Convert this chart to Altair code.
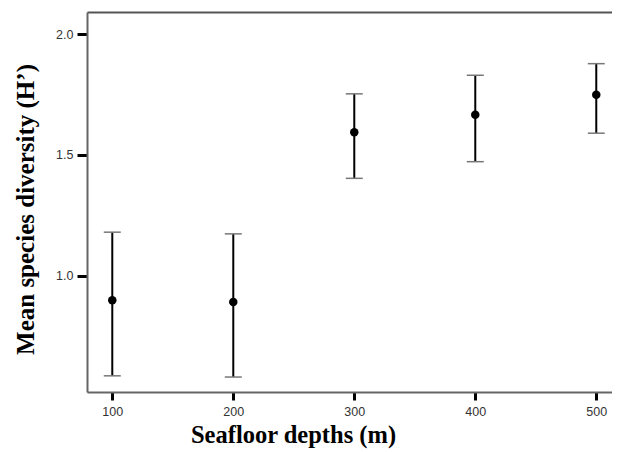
import altair as alt
import pandas as pd

depths = [100, 200, 300, 400, 500]
means = [0.898, 0.891, 1.594, 1.666, 1.749]
lower = [0.585, 0.580, 1.403, 1.472, 1.590]
upper = [1.180, 1.173, 1.753, 1.830, 1.878]
x_ticks = [100, 200, 300, 400, 500]
y_ticks = [1.0, 1.5, 2.0]

df = pd.DataFrame({"depth": depths, "mean": means, "lower": lower, "upper": upper})

xs = alt.Scale(domain=[79.1, 513], nice=False, zero=False)
ys = alt.Scale(domain=[0.518, 2.092], nice=False, zero=False)

x_axis = alt.Axis(
    values=x_ticks, title="Seafloor depths (m)", grid=False,
    tickSize=8, tickWidth=3, tickColor="black",
    domainColor="#666", domainWidth=2,
    labelFont="Liberation Sans", labelFontSize=12.5, labelColor="#333", labelPadding=5,
    titleFont="Liberation Serif", titleFontSize=24.5, titleFontWeight="bold", titleColor="black",
    titleX=206, titleY=50, titleAlign="center", titleBaseline="alphabetic",
)
y_axis = alt.Axis(
    values=y_ticks, format=".1f", title="Mean species diversity (H\u2019)", grid=False,
    tickSize=10, tickWidth=3, tickColor="black",
    domainColor="#666", domainWidth=2,
    labelFont="Liberation Sans", labelFontSize=12.5, labelColor="#333", labelPadding=4,
    titleFont="Liberation Serif", titleFontSize=25, titleFontWeight="bold", titleColor="black",
    titleX=-62, titleY=197, titleAlign="center", titleBaseline="middle", titleAngle=270,
)

base = alt.Chart(df)

bars = base.mark_rule(color="black", strokeWidth=2).encode(
    x=alt.X("depth:Q", scale=xs, axis=x_axis),
    y=alt.Y("lower:Q", scale=ys, axis=y_axis),
    y2="upper:Q",
)
cap_lo = base.mark_tick(orient="horizontal", size=17, thickness=1.5, color="#777", opacity=1).encode(
    x=alt.X("depth:Q", scale=xs, axis=None), y=alt.Y("lower:Q", scale=ys)
)
cap_hi = base.mark_tick(orient="horizontal", size=17, thickness=1.5, color="#777", opacity=1).encode(
    x=alt.X("depth:Q", scale=xs, axis=None), y=alt.Y("upper:Q", scale=ys)
)
pts = base.mark_point(filled=True, color="black", size=72, opacity=1).encode(
    x=alt.X("depth:Q", scale=xs, axis=None), y=alt.Y("mean:Q", scale=ys)
)
frame_top = base.mark_point(opacity=0).encode(
    x=alt.X("depth:Q", scale=xs, axis=alt.Axis(orient="top", labels=False, ticks=False, title=None,
                                                  grid=False, domainColor="#555", domainWidth=2)),
    y=alt.Y("mean:Q", scale=ys),
)

chart = alt.layer(bars, cap_lo, cap_hi, pts, frame_top).resolve_axis(x="independent").properties(
    width=525, height=380,
    autosize=alt.AutoSizeParams(type="none"),
    padding={"left": 79, "top": 4, "right": 0, "bottom": 60},
).configure_view(stroke=None)

chart.save("out.html", embed_options={"renderer": "svg", "actions": False})
